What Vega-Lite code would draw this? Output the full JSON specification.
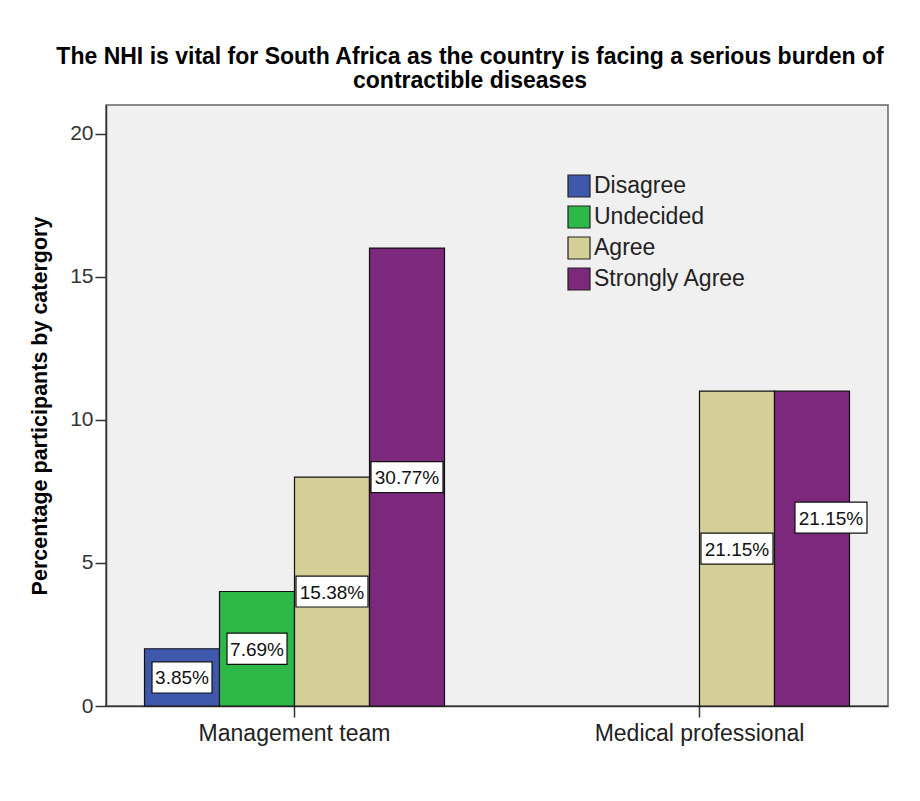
{
  "$schema": "https://vega.github.io/schema/vega-lite/v6.json",
  "width": 782,
  "height": 601,
  "autosize": {"type": "none"},
  "padding": {"left": 106, "top": 105, "right": 32, "bottom": 95},
  "background": "white",
  "config": {
    "font": "Liberation Sans",
    "view": {"fill": "#F0F0F0", "stroke": "#666666", "strokeWidth": 1.5}
  },
  "title": {
    "text": ["The NHI is vital for South Africa as the country is facing a serious burden of", "contractible diseases"],
    "font": "Liberation Sans",
    "fontSize": 23,
    "fontWeight": "bold",
    "color": "#000000",
    "lineHeight": 24,
    "anchor": "middle",
    "dx": -27,
    "offset": 12
  },
  "data": {
    "values": [
      {"group": "Management team", "response": "Disagree", "value": 2, "label": "3.85%"},
      {"group": "Management team", "response": "Undecided", "value": 4, "label": "7.69%"},
      {"group": "Management team", "response": "Agree", "value": 8, "label": "15.38%"},
      {"group": "Management team", "response": "Strongly Agree", "value": 16, "label": "30.77%"},
      {"group": "Medical professional", "response": "Agree", "value": 11, "label": "21.15%"},
      {"group": "Medical professional", "response": "Strongly Agree", "value": 11, "label": "21.15%"}
    ]
  },
  "transform": [{"calculate": "datum.value / 2", "as": "mid"}],
  "encoding": {
    "x": {
      "field": "group",
      "type": "nominal",
      "sort": ["Management team", "Medical professional"],
      "scale": {"paddingInner": 0.2593, "paddingOuter": 0.0951},
      "axis": {
        "title": null,
        "labelAngle": 0,
        "labelFontSize": 23,
        "labelLimit": 0,
        "labelColor": "#222222",
        "labelPadding": 5,
        "tickSize": 11,
        "tickColor": "#333333",
        "tickWidth": 1.5,
        "domainColor": "#333333",
        "domainWidth": 1.5
      }
    },
    "xOffset": {
      "field": "response",
      "type": "nominal",
      "scale": {"domain": ["Disagree", "Undecided", "Agree", "Strongly Agree"], "paddingInner": 0, "paddingOuter": 0}
    }
  },
  "layer": [
    {
      "mark": {"type": "bar", "stroke": "#111111", "strokeWidth": 1.2},
      "encoding": {
        "y": {
          "field": "value",
          "type": "quantitative",
          "scale": {"domain": [0, 21], "nice": false},
          "axis": {
            "values": [0, 5, 10, 15, 20],
            "grid": false,
            "title": "Percentage participants by catergory",
            "titleFontSize": 21.5,
            "titleFontWeight": "bold",
            "titleColor": "#000000",
            "titlePadding": 18,
            "labelFontSize": 21,
            "labelColor": "#333333",
            "labelPadding": 2,
            "tickSize": 11,
            "tickColor": "#333333",
            "tickWidth": 1.5,
            "domainColor": "#333333",
            "domainWidth": 1.5
          }
        },
        "color": {
          "field": "response",
          "type": "nominal",
          "scale": {
            "domain": ["Disagree", "Undecided", "Agree", "Strongly Agree"],
            "range": ["#3E58AC", "#2EB848", "#D4CE97", "#7B287D"]
          },
          "legend": {
            "title": null,
            "orient": "none",
            "legendX": 461,
            "legendY": 69,
            "padding": 0,
            "symbolType": "square",
            "symbolSize": 484,
            "symbolStrokeColor": "#222222",
            "symbolStrokeWidth": 1.2,
            "symbolOpacity": 1,
            "labelFontSize": 23,
            "labelColor": "#222222",
            "labelOffset": 3,
            "rowPadding": 3
          }
        }
      }
    },
    {
      "transform": [{"filter": "!(datum.group == 'Medical professional' && datum.response == 'Strongly Agree')"}],
      "layer": [
        {
          "mark": {"type": "point", "filled": true, "fill": "white", "stroke": "#111111", "strokeWidth": 1.2, "opacity": 1},
          "encoding": {
            "y": {"field": "mid", "type": "quantitative"},
            "shape": {
              "condition": {"test": "length(datum.label) > 5", "value": "M-1,-0.43L1,-0.43L1,0.43L-1,0.43Z"},
              "value": "M-1,-0.52L1,-0.52L1,0.52L-1,0.52Z"
            },
            "size": {
              "condition": {"test": "length(datum.label) > 5", "value": 5184},
              "value": 3600
            }
          }
        },
        {
          "mark": {"type": "text", "fontSize": 19, "color": "#111111", "align": "center", "baseline": "middle", "dy": 1},
          "encoding": {
            "y": {"field": "mid", "type": "quantitative"},
            "text": {"field": "label"}
          }
        }
      ]
    },
    {
      "transform": [{"filter": "datum.group == 'Medical professional' && datum.response == 'Strongly Agree'"}],
      "encoding": {
        "yOffset": {"value": -31}
      },
      "layer": [
        {
          "mark": {"type": "point", "filled": true, "fill": "white", "stroke": "#111111", "strokeWidth": 1.2, "opacity": 1},
          "encoding": {
            "y": {"field": "mid", "type": "quantitative"},
            "shape": {"value": "M-0.472,-0.43L1.528,-0.43L1.528,0.43L-0.472,0.43Z"},
            "size": {"value": 5184}
          }
        },
        {
          "mark": {"type": "text", "fontSize": 19, "color": "#111111", "align": "center", "baseline": "middle", "dx": 19, "dy": 1},
          "encoding": {
            "y": {"field": "mid", "type": "quantitative"},
            "text": {"field": "label"}
          }
        }
      ]
    }
  ]
}
